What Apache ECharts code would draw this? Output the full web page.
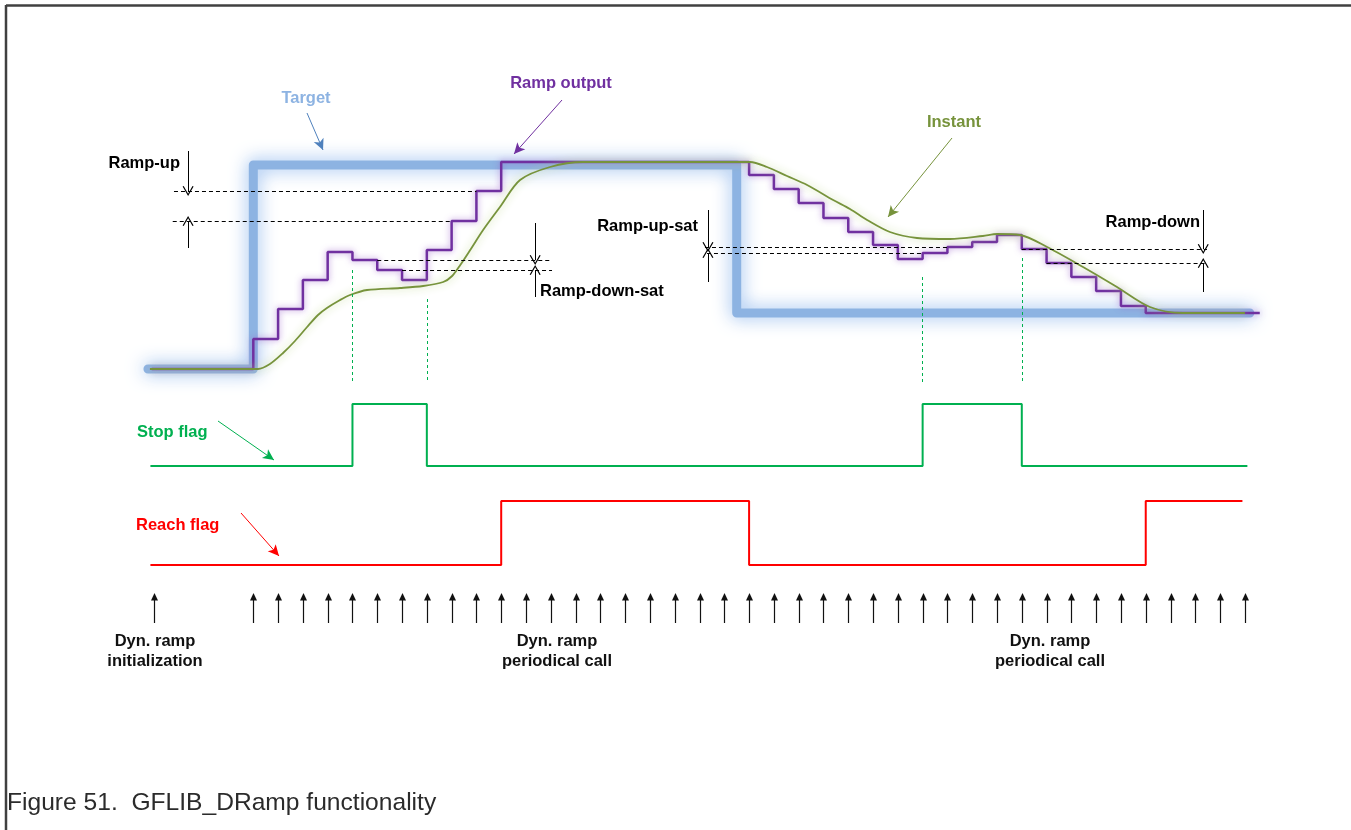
<!DOCTYPE html>
<html>
<head>
<meta charset="utf-8">
<script src="https://cdn.jsdelivr.net/npm/echarts@6/dist/echarts.min.js"></script>
<style>
  html, body { margin: 0; padding: 0; background: #fff; }
  #chart { width: 1351px; height: 830px; }
</style>
</head>
<body>
<div id="chart"></div>
<script>
// time axis is in call periods (0 = first periodical call)
const callTimes = [-4, 0, 1, 2, 3, 4, 5, 6, 7, 8, 9, 10, 11, 12, 13, 14, 15, 16, 17, 18, 19, 20,
  21, 22, 23, 24, 25, 26, 27, 28, 29, 30, 31, 32, 33, 34, 35, 36, 37, 38, 39, 40]

// target (step)
const targetT = [-4.25, 0, 19.5, 40.2]
const targetV = [0, 204, 56, 56]

// ramp output (step, value held from t)
const rampT = [-4.1, 0, 1, 2, 3, 4, 5, 6, 7, 8, 9, 10, 20, 21, 22, 23, 24, 25, 26, 27, 28, 29, 30,
  31, 32, 33, 34, 35, 36, 40.6]
const rampV = [0, 30, 60, 89, 117, 109, 99, 89, 119, 148, 178, 207, 194, 180, 166, 151, 137, 124, 110,
  116, 122, 127, 134, 120, 106, 92, 78, 63, 56, 56]

// instant value (smooth)
const instantT = [-4.17, 0.19, 0.67, 1.2, 1.68, 2.17, 2.61, 2.97, 3.5, 3.9, 4.59, 5.92, 6.85, 7.66, 8.02,
  8.35, 8.75, 9.27, 9.95, 10.76, 11.97, 13.3, 20.04, 20.72, 21.53, 22.34, 23.39, 24.07, 24.76, 25.68,
  26.77, 28.1, 29.43, 30.0, 30.93, 32.02, 33.47, 34.84, 36.17, 37.5, 38.06, 40.0]
const instantV = [0, 0, 5, 16, 28, 42, 54, 61, 69, 74, 79, 81, 83, 87, 93, 104, 119, 139, 162, 189, 202,
  207, 207, 202, 193, 184, 169, 160, 149, 137, 131, 130, 133, 135, 134, 122, 102, 82, 62, 56, 56, 56]

// flags
const stopT = [-4.15, 4, 7, 27, 31, 40.1]
const stopV = [0, 1, 0, 1, 0, 0]
const reachT = [-4.15, 10, 20, 36, 39.9]
const reachV = [0, 1, 0, 1, 1]

// dashed step levels [t from, t to, value]
const stepLevels = [
  [-3.2, 9, 178], [-3.25, 8, 148],
  [5, 12.05, 109], [6, 12.05, 99],
  [18.22, 28, 122], [18.3, 27, 116],
  [31, 38.47, 120], [32, 38.47, 106]
]
// step size arrows [t, from value, to value]
const stepArrows = [
  [-2.63, 218, 178], [-2.63, 121, 148],
  [11.37, 146, 109], [11.37, 72, 99],
  [18.34, 159, 122], [18.34, 87, 116],
  [38.32, 159, 120], [38.32, 77, 106]
]
// stop flag markers [t, top value]
const stopMarks = [[4, 99], [7, 70], [27, 92], [31, 111]]

const chart = echarts.init(document.getElementById('chart'))
const font = '"Liberation Sans", Arial, sans-serif'
const zip = (xs, ys) => xs.map((x, i) => [x, ys[i]])

const vArrow = 'path://M0,10 L5,0 L10,10 L9,10.6 L5,2.4 L1,10.6 Z'

const markData = []
stepLevels.forEach((l) => {
  markData.push([
    { coord: [l[0], l[2]], lineStyle: { color: '#000', width: 1, type: [4, 3] } },
    { coord: [l[1], l[2]] }
  ])
})
stepArrows.forEach((a) => {
  markData.push([
    { coord: [a[0], a[1]], lineStyle: { color: '#000', width: 1, type: 'solid' } },
    { coord: [a[0], a[2]], symbol: vArrow, symbolSize: [11, 10] }
  ])
})
stopMarks.forEach((m) => {
  markData.push([
    { coord: [m[0], m[1]], lineStyle: { color: '#00b050', width: 1, type: [3, 3] } },
    { coord: [m[0], -13] }
  ])
})
// pointer arrows from the labels
const pointers = [
  [307, 113, 323, 150, '#4f81bd'],
  [562, 100, 514, 154, '#7030a0'],
  [952, 138, 888, 217, '#77933c'],
  [218, 421, 274, 460, '#00b050'],
  [241, 513, 279, 556, '#ff0000']
]
pointers.forEach((p) => {
  markData.push([
    { x: p[0], y: p[1], lineStyle: { color: p[4], width: 1, type: 'solid' } },
    { x: p[2], y: p[3], symbol: 'arrow', symbolSize: [8, 11] }
  ])
})

const labels = [
  ['Target', 306, 98, '#8db3e2', 'center'],
  ['Ramp output', 561, 83, '#7030a0', 'center'],
  ['Instant', 954, 122, '#77933c', 'center'],
  ['Ramp-up', 180, 163, '#000', 'right'],
  ['Ramp-down-sat', 540, 291, '#000', 'left'],
  ['Ramp-up-sat', 698, 226, '#000', 'right'],
  ['Ramp-down', 1200, 222, '#000', 'right'],
  ['Stop flag', 137, 432, '#00b050', 'left'],
  ['Reach flag', 136, 525, '#ff0000', 'left'],
  ['Dyn. ramp\ninitialization', 155, 651, '#111', 'center'],
  ['Dyn. ramp\nperiodical call', 557, 651, '#111', 'center'],
  ['Dyn. ramp\nperiodical call', 1050, 651, '#111', 'center']
]

const graphic = labels.map((l) => ({
  type: 'text',
  x: l[1],
  y: l[2],
  silent: true,
  style: {
    text: l[0],
    fill: l[3],
    font: 'bold 16.5px ' + font,
    lineHeight: 20,
    textAlign: l[4],
    textVerticalAlign: 'middle'
  }
}))
graphic.push({
  type: 'text', x: 7, y: 803, silent: true,
  style: { text: 'Figure 51.  GFLIB_DRamp functionality', fill: '#2b2b2b', font: '24.6px ' + font, textVerticalAlign: 'middle' }
})
// frame
graphic.push({ type: 'line', silent: true, shape: { x1: 6, y1: 5.5, x2: 1351, y2: 5.5 }, style: { stroke: '#404040', lineWidth: 2.5 } })
graphic.push({ type: 'line', silent: true, shape: { x1: 6, y1: 5, x2: 6, y2: 830 }, style: { stroke: '#404040', lineWidth: 2.5 } })

const option = {
  animation: false,
  backgroundColor: '#fff',
  grid: { left: 0, right: 0, top: 0, bottom: 0 },
  xAxis: { type: 'value', min: -10.218, max: 44.28, show: false },
  yAxis: [
    { type: 'value', min: -461, max: 369, show: false }, // signals
    { type: 'value', min: -5.871, max: 7.516, show: false }, // stop flag
    { type: 'value', min: -4.1406, max: 8.828, show: false }, // reach flag
    { type: 'value', min: -6.9, max: 20.767, show: false } // calls
  ],
  graphic: graphic,
  series: [
    {
      name: 'Target',
      type: 'line',
      step: 'end',
      yAxisIndex: 0,
      symbol: 'none',
      silent: true,
      data: zip(targetT, targetV),
      lineStyle: { color: '#8db3e2', width: 9, cap: 'round', join: 'round', shadowColor: 'rgba(130,175,235,0.95)', shadowBlur: 18 }
    },
    {
      name: 'Ramp output',
      type: 'line',
      step: 'end',
      yAxisIndex: 0,
      symbol: 'none',
      silent: true,
      data: zip(rampT, rampV),
      lineStyle: { color: '#7030a0', width: 2.5, shadowColor: 'rgba(150,90,200,0.7)', shadowBlur: 6 },
      markLine: {
        silent: true,
        animation: false,
        symbol: ['none', 'none'],
        label: { show: false },
        emphasis: { disabled: true },
        data: markData
      }
    },
    {
      name: 'Instant',
      type: 'line',
      smooth: 0.3,
      yAxisIndex: 0,
      symbol: 'none',
      silent: true,
      data: zip(instantT, instantV),
      lineStyle: { color: '#77933c', width: 1.8, shadowColor: 'rgba(190,215,140,0.95)', shadowBlur: 8 }
    },
    {
      name: 'Stop flag',
      type: 'line',
      step: 'end',
      yAxisIndex: 1,
      symbol: 'none',
      silent: true,
      data: zip(stopT, stopV),
      lineStyle: { color: '#00b050', width: 2 }
    },
    {
      name: 'Reach flag',
      type: 'line',
      step: 'end',
      yAxisIndex: 2,
      symbol: 'none',
      silent: true,
      data: zip(reachT, reachV),
      lineStyle: { color: '#ff0000', width: 2 }
    },
    {
      name: 'Calls',
      type: 'custom',
      yAxisIndex: 3,
      silent: true,
      data: callTimes.map((t) => [t, 1]),
      renderItem(params, api) {
        const top = api.coord([api.value(0), 1])
        const bot = api.coord([api.value(0), 0])
        const x = Math.round(top[0]) + 0.5
        return {
          type: 'group',
          children: [
            { type: 'line', shape: { x1: x, y1: bot[1], x2: x, y2: top[1] + 5 }, style: { stroke: '#111', lineWidth: 1.2 } },
            { type: 'polygon', shape: { points: [[x - 3.5, top[1] + 7.5], [x + 3.5, top[1] + 7.5], [x, top[1]]] }, style: { fill: '#111' } }
          ]
        }
      }
    }
  ]
}

chart.setOption(option)
</script>
</body>
</html>
